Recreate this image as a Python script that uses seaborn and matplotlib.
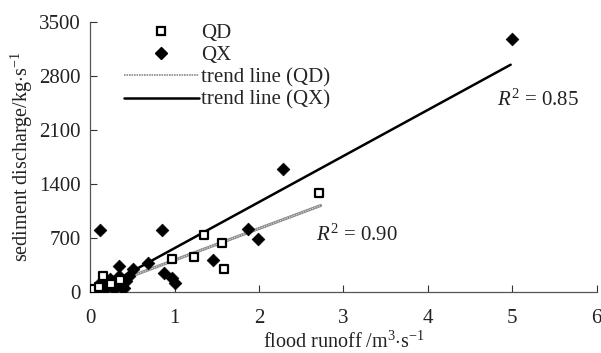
import numpy as np
import pandas as pd
import matplotlib
matplotlib.use("Agg")
import matplotlib.pyplot as plt
from matplotlib.lines import Line2D
import seaborn as sns

# ── data ───────────────────────────────────────────────────────────────────────
qd_runoff = [0.05, 0.10, 0.15, 0.25, 0.35, 0.97, 1.23, 1.35, 1.56, 1.58, 2.71]
qd_sediment = [40, 60, 200, 100, 150, 430, 455, 740, 636, 300, 1285]

qx_runoff = [0.06, 0.09, 0.12, 0.15, 0.18, 0.20, 0.23, 0.26, 0.28, 0.31, 0.34,
             0.37, 0.40, 0.43, 0.46, 0.12, 0.34, 0.51, 0.69, 0.85, 0.88, 0.97,
             1.00, 1.46, 1.87, 1.99, 2.28, 5.00]
qx_sediment = [40, 70, 110, 35, 140, 60, 170, 90, 40, 130, 200,
               60, 50, 140, 210, 800, 340, 300, 375, 800, 240, 185,
               115, 415, 815, 690, 1595, 3280]

trend_qd_x = [0.05, 2.73]
trend_qd_y = [25, 1120]
trend_qx_x = [0.05, 4.98]
trend_qx_y = [0, 2945]

r2_labels = ["$R^2$ = 0.85", "$R^2$ = 0.90"]

# ── style ──────────────────────────────────────────────────────────────────────
sns.set_style("ticks")
plt.rcParams["font.family"] = ["Liberation Serif", "DejaVu Serif"]
plt.rcParams["mathtext.fontset"] = "custom"
plt.rcParams["mathtext.it"] = "Liberation Serif:italic"
plt.rcParams["mathtext.rm"] = "Liberation Serif"
TXT = "#222222"
FS = 15

fig = plt.figure(figsize=(6.01, 3.53), dpi=100)
ax = fig.add_axes([0.150, 0.173, 0.843, 0.765])

qd = pd.DataFrame({"x": qd_runoff, "y": qd_sediment})
qx = pd.DataFrame({"x": qx_runoff, "y": qx_sediment})

sns.lineplot(x=trend_qd_x, y=trend_qd_y, ax=ax, color="#8c8c8c", lw=2.2, zorder=2)
sns.lineplot(x=trend_qd_x, y=trend_qd_y, ax=ax, color="#e0e0e0", lw=0.8,
             ls=(0, (1, 1.2)), zorder=2)
sns.lineplot(x=trend_qx_x, y=trend_qx_y, ax=ax, color="black", lw=1.8, zorder=2)

sns.scatterplot(data=qx, x="x", y="y", ax=ax, marker="D", s=42, color="black",
                edgecolor="black", linewidth=0.5, zorder=3)
sns.scatterplot(data=qd, x="x", y="y", ax=ax, marker="s", s=34, facecolor="white",
                edgecolor="black", linewidth=1.6, zorder=4)

ax.set_xlim(0, 6)
ax.set_ylim(0, 3500)
ax.set_xticks(range(0, 7))
ax.set_yticks(range(0, 3501, 700))
ax.tick_params(direction="in", length=5, width=0.8, labelsize=FS, colors="#333333",
               labelcolor=TXT)
ax.tick_params(axis="x", pad=12)
ax.tick_params(axis="y", pad=7)
for s in ["top", "right"]:
    ax.spines[s].set_visible(False)
for s in ["left", "bottom"]:
    ax.spines[s].set_color("#555555")
    ax.spines[s].set_linewidth(0.9)

ax.set_xlabel(r"flood runoff /m$^3$$\cdot$s$^{-1}$", fontsize=14.5, color=TXT, labelpad=3)
ax.set_ylabel(r"sediment discharge/kg$\cdot$s$^{-1}$", fontsize=14.5, color=TXT, labelpad=3)

ax.text(5.3, 2490, r2_labels[0], fontsize=FS, ha="center", va="center", color=TXT)
ax.text(3.16, 730, r2_labels[1], fontsize=FS, ha="center", va="center", color=TXT)

handles = [
    Line2D([], [], ls="none", marker="s", ms=5.5, mfc="white", mec="black", mew=1.6),
    Line2D([], [], ls="none", marker="D", ms=6.5, color="black"),
    Line2D([], [], color="#8c8c8c", lw=1.2, ls=(0, (1, 0.5))),
    Line2D([], [], color="black", lw=1.8),
]
ax.legend(handles, ["QD", "QX", "trend line (QD)", "trend line (QX)"],
          loc="upper left", bbox_to_anchor=(0.05, 1.025), frameon=False, fontsize=FS,
          handlelength=3.6, handletextpad=0.1, labelspacing=0.13, borderaxespad=0.0)

fig.savefig("out.png", dpi=100)
